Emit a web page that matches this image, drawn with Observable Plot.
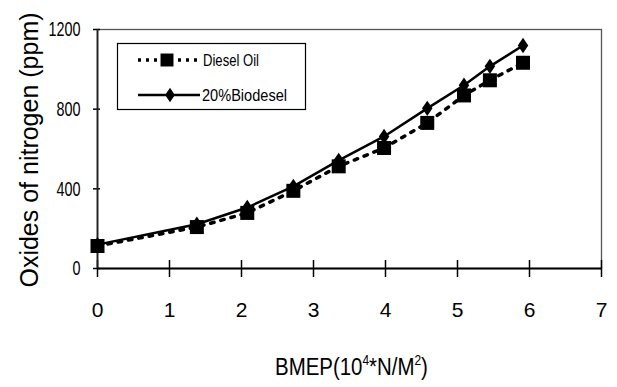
<!DOCTYPE html>
<html><head><meta charset="utf-8">
<script src="https://cdn.jsdelivr.net/npm/d3@7"></script>
<script src="https://cdn.jsdelivr.net/npm/@observablehq/plot@0.6"></script>
<style>body{margin:0;background:#fff}</style>
</head><body><div id="chart"></div>
<script>
const bmep = [0, 1.38, 2.08, 2.72, 3.35, 3.98, 4.58, 5.09, 5.45, 5.91];
const dieselOil = [113, 208, 279, 390, 513, 605, 731, 869, 945, 1033];
const biodiesel20 = [120, 222, 306, 412, 543, 663, 804, 920, 1015, 1120];
const xTicks = [0, 1, 2, 3, 4, 5, 6, 7];
const yTicks = [0, 400, 800, 1200];
const seriesNames = ["Diesel Oil", "20%Biodesel"];
const yLabel = "Oxides of nitrogen (ppm)";

const dieselRows = bmep.map((x, i) => ({x, y: dieselOil[i], s: seriesNames[0]}));
const bioRows = bmep.map((x, i) => ({x, y: biodiesel20[i], s: seriesNames[1]}));

const squareSym = {draw(ctx, size) { const r = Math.sqrt(size / Math.PI); ctx.rect(-r, -r, 2 * r, 2 * r); }};
const diamondSym = {draw(ctx, size) { const r = Math.sqrt(size / Math.PI); const h = r * 1.1, w = r * 0.75;
  ctx.moveTo(0, -h); ctx.lineTo(w, 0); ctx.lineTo(0, h); ctx.lineTo(-w, 0); ctx.closePath(); }};

const font = "'Liberation Sans', Arial, sans-serif";

const chart = Plot.plot({
  width: 617, height: 387,
  marginLeft: 97, marginRight: 16, marginTop: 29, marginBottom: 119,
  x: {domain: [0, 7]},
  y: {domain: [0, 1200]},
  style: {fontFamily: font, background: "#fff", color: "#000"},
  marks: [
    Plot.frame({stroke: "#555", strokeWidth: 1.3}),
    Plot.axisY({ticks: yTicks, tickFormat: d3.format("d"), tickSize: 0, tickPadding: 17, fontSize: 21, label: null}),
    Plot.axisX({ticks: xTicks, tickFormat: d3.format("d"), tickSize: 0, tickPadding: 34, fontSize: 21, label: null}),
    Plot.ruleY(yTicks, {y: d => d, x1: 0, x2: 0, insetLeft: -4, insetRight: -3, stroke: "#000", strokeWidth: 1.5}),
    Plot.ruleX(xTicks, {x: d => d, y1: 0, y2: 0, insetTop: -8, insetBottom: -9, stroke: "#000", strokeWidth: 1.5}),
    Plot.ruleY([0], {stroke: "#000", strokeWidth: 2}),
    Plot.ruleX([0], {stroke: "#222", strokeWidth: 1.8}),
    Plot.line(dieselRows, {x: "x", y: "y", stroke: "#000", strokeWidth: 3.5, strokeDasharray: "3.5,7"}),
    Plot.dot(dieselRows, {x: "x", y: "y", symbol: squareSym, r: 7, fill: "#000", stroke: "none"}),
    Plot.line(bioRows, {x: "x", y: "y", stroke: "#000", strokeWidth: 2.5}),
    Plot.dot(bioRows, {x: "x", y: "y", symbol: diamondSym, r: 7, fill: "#000", stroke: "none"})
  ]
});
document.getElementById("chart").appendChild(chart);

const svg = d3.select(chart);
// condense y tick labels (the reference uses a narrow face)
svg.selectAll("g[aria-label='y-axis tick label'] text").each(function() {
  const n = this.textContent.length;
  d3.select(this).attr("textLength", n * 8).attr("lengthAdjust", "spacingAndGlyphs");
});

// Legend
const lg = svg.append("g").attr("text-anchor", "start");
lg.append("rect").attr("x", 117.5).attr("y", 43.5).attr("width", 188).attr("height", 66)
  .attr("fill", "#fff").attr("stroke", "#000").attr("stroke-width", 1.2);
lg.append("line").attr("x1", 138).attr("x2", 200).attr("y1", 60).attr("y2", 60)
  .attr("stroke", "#000").attr("stroke-width", 3.5).attr("stroke-dasharray", "3,5");
lg.append("path").attr("transform", "translate(167,60)").attr("d", d3.symbol(squareSym, 42 * Math.PI)()).attr("fill", "#000");
lg.append("text").attr("x", 203).attr("y", 66).attr("font-family", font).attr("font-size", 17)
  .attr("textLength", 56).attr("lengthAdjust", "spacingAndGlyphs").text(seriesNames[0]);
lg.append("line").attr("x1", 138).attr("x2", 200).attr("y1", 95).attr("y2", 95)
  .attr("stroke", "#000").attr("stroke-width", 2.5);
lg.append("path").attr("transform", "translate(170,95)").attr("d", d3.symbol(diamondSym, 42 * Math.PI)()).attr("fill", "#000");
lg.append("text").attr("x", 202).attr("y", 101).attr("font-family", font).attr("font-size", 17)
  .attr("textLength", 85).attr("lengthAdjust", "spacingAndGlyphs").text(seriesNames[1]);

// Axis titles
svg.append("text").attr("transform", "translate(29,150) rotate(-90)")
  .attr("text-anchor", "middle").attr("dominant-baseline", "central")
  .attr("font-family", font).attr("font-size", 25).text(yLabel);

const xg = svg.append("g");
const xl = xg.append("text").attr("x", 0).attr("y", 0).attr("text-anchor", "start")
  .attr("font-family", font).attr("font-size", 24);
xl.append("tspan").text("BMEP(10");
xl.append("tspan").attr("dy", -10).attr("font-size", 14).text("4");
xl.append("tspan").attr("dy", 10).text("*N/M");
xl.append("tspan").attr("dy", -10).attr("font-size", 14).text("2");
xl.append("tspan").attr("dy", 10).text(")");
const w = xl.node().getBBox().width || 180;
xg.attr("transform", `translate(275,375) scale(${153 / w},1)`);
</script>
</body></html>
